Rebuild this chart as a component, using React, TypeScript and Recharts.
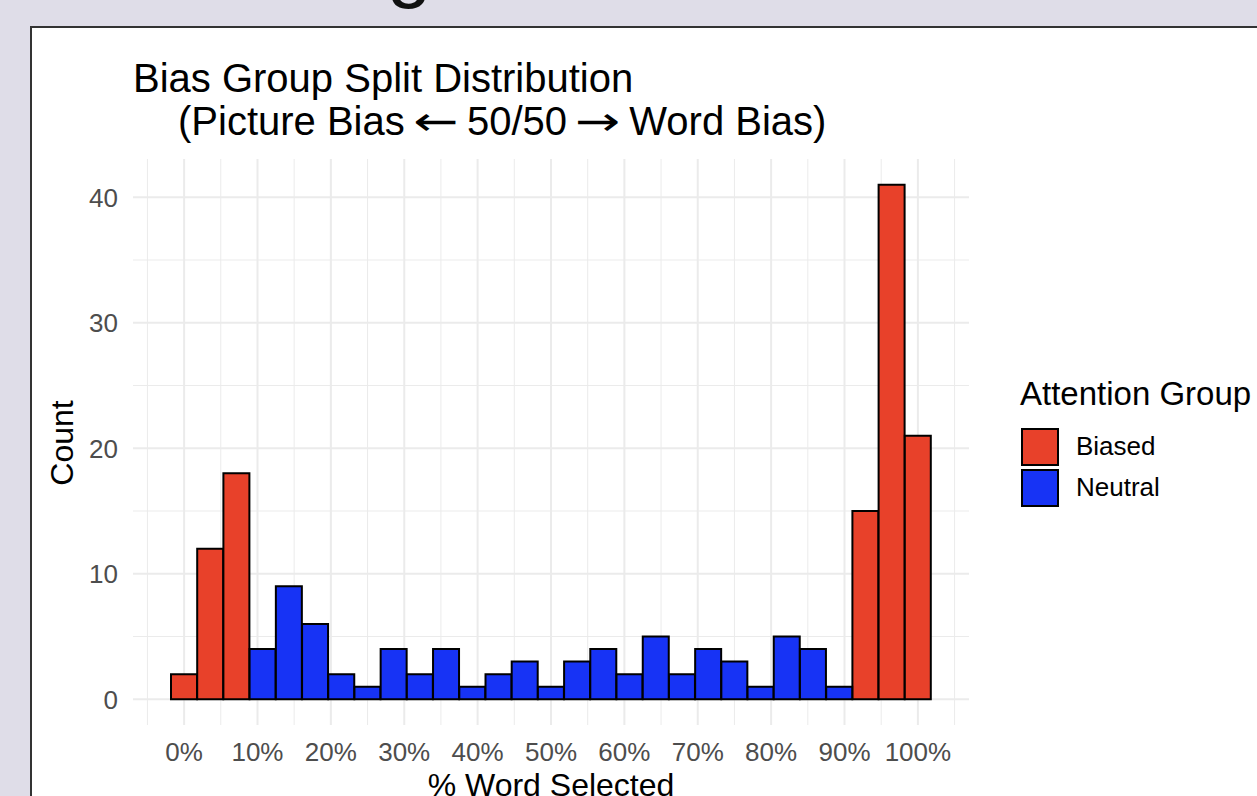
import React from 'react';
import { BarChart, Bar, XAxis, YAxis, CartesianGrid, Legend } from 'recharts';

const FONT = '"Liberation Sans", Arial, Helvetica, sans-serif';
const RED = '#E8412A';
const BLUE = '#1733F5';

// histogram bins (% word selected, bin centres)
const binCenters = [
  0, 3.57, 7.14, 10.71, 14.29, 17.86, 21.43, 25, 28.57, 32.14,
  35.71, 39.29, 42.86, 46.43, 50, 53.57, 57.14, 60.71, 64.29, 67.86,
  71.43, 75, 78.57, 82.14, 85.71, 89.29, 92.86, 96.43, 100,
];
const biasedCounts = [
  2, 12, 18,
  0, 0, 0, 0, 0, 0, 0, 0, 0, 0, 0, 0, 0, 0, 0, 0, 0, 0, 0, 0, 0, 0, 0,
  15, 41, 21,
];
const neutralCounts = [
  0, 0, 0,
  4, 9, 6, 2, 1, 4, 2, 4, 1, 2, 3, 1, 3, 4, 2, 5, 2, 4, 3, 1, 5, 4, 1,
  0, 0, 0,
];

const xTicks = [0, 10, 20, 30, 40, 50, 60, 70, 80, 90, 100];
const xMinor = [-5, 5, 15, 25, 35, 45, 55, 65, 75, 85, 95, 105];
const yTicks = [0, 10, 20, 30, 40];
const yMinor = [5, 15, 25, 35];

const X_DOMAIN: [number, number] = [-6.964, 106.964];
const Y_DOMAIN: [number, number] = [-2.05, 43.05];

const data = binCenters.map((x, i) => ({ x, biased: biasedCounts[i], neutral: neutralCounts[i] }));

const tickStyle = { fill: '#4D4D4D', fontSize: 26, fontFamily: FONT };

// grid lines at given axis values, placed inside the plot area offset
const gridX = (vals: number[]) => ({ offset }: any) =>
  vals.map((v) => offset.left + ((v - X_DOMAIN[0]) / (X_DOMAIN[1] - X_DOMAIN[0])) * offset.width);
const gridY = (vals: number[]) => ({ offset }: any) =>
  vals.map((v) => offset.top + ((Y_DOMAIN[1] - v) / (Y_DOMAIN[1] - Y_DOMAIN[0])) * offset.height);

const renderLegend = (props: any) => (
  <div style={{ fontFamily: FONT, color: '#000' }}>
    <div style={{ fontSize: 33, lineHeight: '38px', marginBottom: 13, whiteSpace: 'nowrap' }}>Attention Group</div>
    {(props.payload || []).map((p: any) => (
      <div key={p.value} style={{ display: 'flex', alignItems: 'center', height: 41 }}>
        <div
          style={{
            width: 38, height: 38, boxSizing: 'border-box', marginLeft: 1,
            background: p.color, border: '2px solid #000',
          }}
        />
        <span style={{ marginLeft: 17, fontSize: 26 }}>{p.value}</span>
      </div>
    ))}
  </div>
);

// long thin arrow like the plotmath one in the title
const Arrow = ({ ch }: { ch: string }) => (
  <span
    style={{
      display: 'inline-block', width: 40, textAlign: 'center',
      fontFamily: '"DejaVu Sans", sans-serif', transform: 'scaleX(1.35)',
    }}
  >
    {ch}
  </span>
);

export default function App() {
  return (
    <div style={{ position: 'absolute', left: 0, top: 0, width: 1257, height: 796, overflow: 'hidden', background: '#DFDDE8' }}>
      <div style={{ position: 'absolute', left: 387, top: -75, fontFamily: FONT, fontSize: 80, lineHeight: '80px', color: '#111' }}>g</div>
      <div
        style={{
          position: 'absolute', left: 30, top: 26, width: 1300, height: 820,
          background: '#fff', border: '2px solid #333', boxSizing: 'border-box',
        }}
      />
      <div style={{ position: 'absolute', left: 0, top: 0 }}>
        <BarChart
          width={1257}
          height={796}
          data={data}
          margin={{ top: 159, right: 288, bottom: 11, left: 73 }}
          barCategoryGap={0}
          barGap={0}
        >
          <CartesianGrid
            stroke="#EBEBEB"
            strokeWidth={1}
            verticalCoordinatesGenerator={gridX(xMinor)}
            horizontalCoordinatesGenerator={gridY(yMinor)}
          />
          <CartesianGrid
            stroke="#EBEBEB"
            strokeWidth={2}
            verticalCoordinatesGenerator={gridX(xTicks)}
            horizontalCoordinatesGenerator={gridY(yTicks)}
          />
          <XAxis
            dataKey="x"
            type="number"
            domain={X_DOMAIN}
            allowDataOverflow
            ticks={xTicks}
            interval={0}
            tickFormatter={(v) => `${v}%`}
            axisLine={false}
            tickLine={false}
            tickSize={0}
            tickMargin={18}
            height={60}
            tick={tickStyle}
          />
          <YAxis
            type="number"
            domain={Y_DOMAIN}
            allowDataOverflow
            ticks={yTicks}
            interval={0}
            axisLine={false}
            tickLine={false}
            tickSize={0}
            tickMargin={15}
            width={60}
            tick={tickStyle}
          />
          <Legend
            layout="horizontal"
            verticalAlign="middle"
            align="center"
            content={renderLegend}
            wrapperStyle={{ left: 1020, top: 375, width: 237 }}
          />
          <Bar dataKey="biased" name="Biased" stackId="h" fill={RED} stroke="#000" strokeWidth={2} isAnimationActive={false} />
          <Bar dataKey="neutral" name="Neutral" stackId="h" fill={BLUE} stroke="#000" strokeWidth={2} isAnimationActive={false} />
        </BarChart>
      </div>
      <div style={{ position: 'absolute', left: 133, top: 58, fontFamily: FONT, fontSize: 40, lineHeight: '40px', color: '#000', whiteSpace: 'nowrap' }}>
        Bias Group Split Distribution
      </div>
      <div style={{ position: 'absolute', left: 178, top: 101, fontFamily: FONT, fontSize: 40, lineHeight: '40px', color: '#000', whiteSpace: 'nowrap' }}>
        (Picture Bias <Arrow ch="←" /> 50/50 <Arrow ch="→" /> Word Bias)
      </div>
      <div
        style={{
          position: 'absolute', left: -38, top: 425, width: 200, height: 36, lineHeight: '36px',
          textAlign: 'center', fontFamily: FONT, fontSize: 32, color: '#000', transform: 'rotate(-90deg)',
        }}
      >
        Count
      </div>
      <div
        style={{
          position: 'absolute', left: 351, top: 767, width: 400, lineHeight: '36px',
          textAlign: 'center', fontFamily: FONT, fontSize: 32, color: '#000',
        }}
      >
        % Word Selected
      </div>
    </div>
  );
}
